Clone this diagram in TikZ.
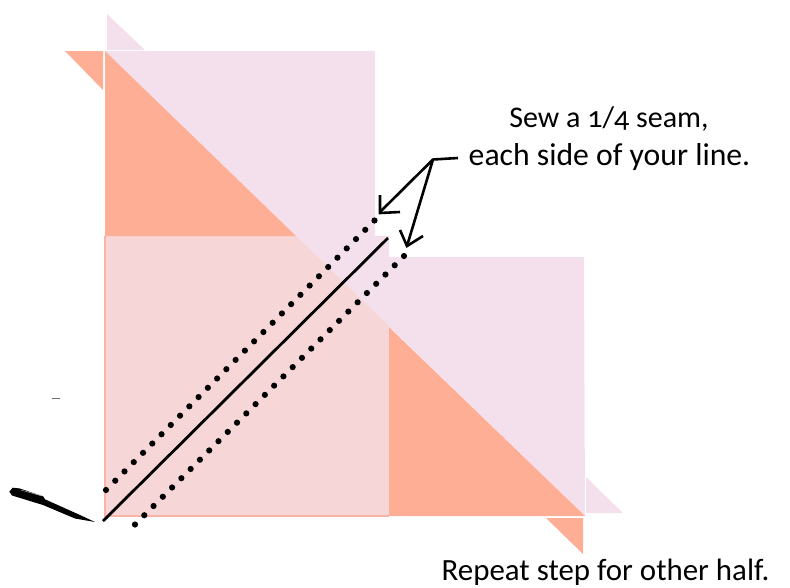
\documentclass[tikz,border=0pt]{standalone}
\usepackage{fontspec}
\usetikzlibrary{calc}
\setmainfont{Carlito}[Numbers=OldStyle]
\definecolor{salmon}{HTML}{FFAE96}
\definecolor{lilac}{HTML}{F4E0EC}
\definecolor{rosy}{HTML}{F6D6D6}
\definecolor{rosyedge}{HTML}{F8B4A4}
\tikzset{
  lilacpatch/.style={fill=lilac},
  salmonpatch/.style={fill=salmon},
  label/.style={text=black, inner sep=0pt, anchor=base},
  seamdot/.style={fill=black},
  penline/.style={draw=black, line width=2.8pt},
  arrowline/.style={draw=black, line width=2.6pt}
}
\begin{document}
\begin{tikzpicture}[x=1pt,y=-1pt]
\useasboundingbox (0,0) rectangle (790,587);
% small triangles
\fill[lilacpatch] (107,14) -- (107,50) -- (145,50) -- cycle;
\fill[salmonpatch] (65,51) -- (103,51) -- (103,90) -- cycle;
\fill[lilacpatch] (586,477) -- (586,513) -- (623,513) -- cycle;
\fill[salmonpatch] (546,518) -- (583,518) -- (583,554) -- cycle;
% rose square
\fill[rosy] (105,236) rectangle (389,516);
\draw[rosyedge,line width=1.2pt] (105,236) -- (105,516) -- (389,516);
% lilac area
\fill[lilacpatch] (105,51) -- (375,51) -- (375,237) -- (389,237) -- (389,257) -- (584,257) -- (585,516) -- cycle;
% salmon triangles
\fill[salmonpatch] (105,51) -- (105,236) -- (296,236) -- cycle;
\fill[salmonpatch] (389,327) -- (389,516) -- (585,516) -- cycle;
% seams
\coordinate (s1a) at (106,490);
\coordinate (s1b) at (374.5,220.5);
\coordinate (s2a) at (135,524.5);
\coordinate (s2b) at (404,256);
\coordinate (ma) at (103,521);
\coordinate (mb) at (388,238);
\foreach \i in {0,...,29} {
  \fill[seamdot] ($(s1a)!\i/29!(s1b)$) circle (3.1);
  \fill[seamdot] ($(s2a)!\i/29!(s2b)$) circle (3.1);
}
\draw[penline] (ma) -- (mb);
% pen
\fill[black] (95,522) -- (75,518.5) -- (43,505) -- (12,495.5) -- (9.3,491.7) -- (12.7,487.7) -- (20,488.5) -- (43.3,496.5) -- (45,499.3) -- (80,515) -- cycle;
\draw[black!35,line width=0.5pt] (21,490) -- (42,496);
% stray mark
\draw[black!55,line width=1pt] (52,398) -- (60,398);
% arrows
\coordinate (j) at (433,159.5);
\coordinate (tail) at (458,158);
\coordinate (h1) at (380,212);
\coordinate (h2) at (407,246);
\draw[arrowline,line join=round] (tail) -- (j) -- (h1);
\draw[arrowline] (j) -- (h2);
\draw[arrowline] (380,195) -- (380,213) -- (400,212);
\draw[arrowline] (400,230) -- (407,246) -- (423,236);
% text
\node[label,font=\fontsize{30}{38}\selectfont] (t1) at (609,127) {Sew a 1/4 seam,};
\node[label,font=\fontsize{31.7}{38}\selectfont] (t2) at (609.5,165) {each side of your line.};
\node[label,font=\fontsize{30.9}{38}\selectfont] (t3) at (605.5,580) {Repeat step for other half.};
\end{tikzpicture}
\end{document}
